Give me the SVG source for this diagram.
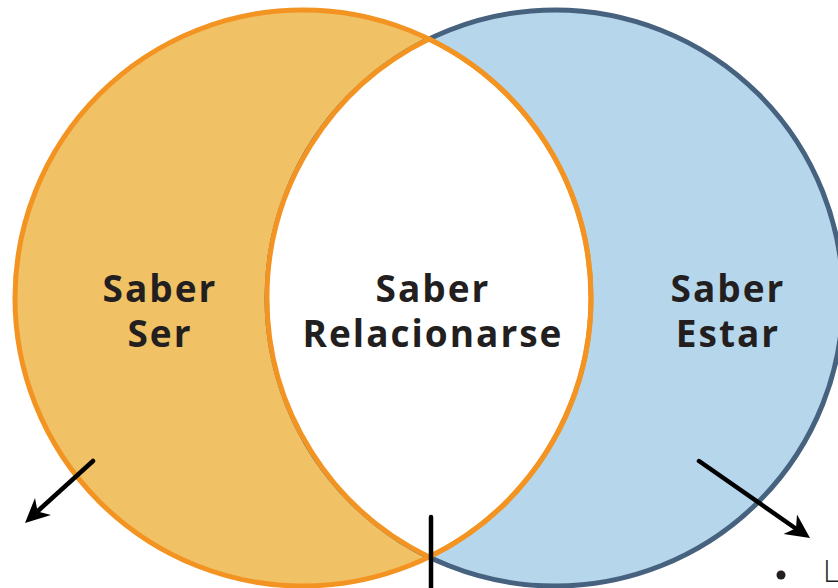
<svg xmlns="http://www.w3.org/2000/svg" width="838" height="588" viewBox="0 0 838 588">
<style>
.lbl{font-family:"Open Sans","Liberation Sans",sans-serif;font-weight:700;font-size:37px;fill:#231f20;letter-spacing:2px;text-anchor:middle}
.conn{stroke:#000;stroke-width:4.5;fill:none;stroke-linecap:round}
.head{fill:#000}
</style>
<rect width="838" height="588" fill="#fff"/>
<g id="saber-ser">
<circle cx="303" cy="298" r="288" fill="#f0c165"/>
</g>
<g id="saber-estar">
<circle cx="555" cy="298" r="288" fill="#b6d6ec" stroke="#46627f" stroke-width="5"/>
</g>
<g id="saber-relacionarse">
<path d="M429,39 A288,288 0 0 1 429,557 A288,288 0 0 1 429,39 Z" fill="#fff" stroke="#f39422" stroke-width="5"/>
</g>
<circle cx="303" cy="298" r="288" fill="none" stroke="#f39422" stroke-width="5"/>
<g id="labels">
<text class="lbl" x="160" y="302">Saber</text>
<text class="lbl" x="160" y="347">Ser</text>
<text class="lbl" x="433" y="302">Saber</text>
<text class="lbl" x="433" y="347">Relacionarse</text>
<text class="lbl" x="728" y="302">Saber</text>
<text class="lbl" x="728" y="347">Estar</text>
</g>
<g id="connectors">
<line class="conn" x1="93" y1="461" x2="39" y2="510"/>
<polygon class="head" points="25,523 51,515 37.6,511.5 35,498"/>
<line class="conn" x1="699" y1="461" x2="795" y2="528"/>
<polygon class="head" points="810,538 783.5,534 796,528.3 797,514.5"/>
<line class="conn" x1="431" y1="517" x2="431" y2="590" stroke-linecap="butt"/>
</g>
<g id="bullet-text">
<circle cx="781" cy="575" r="4.5" fill="#231f20"/>
<text x="823" y="582" font-family="'Open Sans','Liberation Sans',sans-serif" font-weight="300" font-size="31" fill="#231f20">L</text>
</g>
</svg>
